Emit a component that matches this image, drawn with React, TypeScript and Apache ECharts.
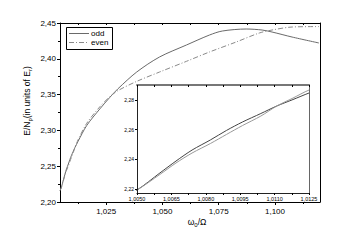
import React, { useEffect, useRef } from "react";
import * as echarts from "echarts";

const xOdd = [1.0045, 1.005, 1.006, 1.0067, 1.0074, 1.0082, 1.0089, 1.0096, 1.0104, 1.0111, 1.0118, 1.0125, 1.0164, 1.0222, 1.0266, 1.0302, 1.0386, 1.0487, 1.0607, 1.0709, 1.0766, 1.0872, 1.0943, 1.0987, 1.1076, 1.1195];
const yOdd = [2.216, 2.2193, 2.2308, 2.2388, 2.2462, 2.253, 2.2594, 2.2651, 2.2708, 2.2759, 2.2802, 2.2846, 2.307, 2.33, 2.346, 2.358, 2.3816, 2.4025, 2.4193, 2.4332, 2.4388, 2.4416, 2.4402, 2.4374, 2.4304, 2.4221];
const xEven = [1.0045, 1.005, 1.006, 1.0067, 1.0074, 1.0082, 1.0089, 1.0096, 1.0104, 1.0111, 1.0118, 1.0125, 1.0164, 1.0222, 1.0266, 1.0302, 1.0386, 1.0487, 1.0607, 1.0709, 1.0828, 1.093, 1.0987, 1.1076, 1.1195];
const yEven = [2.216, 2.2193, 2.2298, 2.2375, 2.2442, 2.2506, 2.2567, 2.2627, 2.2691, 2.2759, 2.2812, 2.2866, 2.31, 2.333, 2.347, 2.3555, 2.3685, 2.3815, 2.3965, 2.4095, 2.4235, 2.436, 2.4402, 2.4444, 2.445];

const mainXLabels = [1.025, 1.05, 1.075, 1.1];
const mainXMinor = [1.0125, 1.0375, 1.0625, 1.0875, 1.1125];
const mainXTop = [1.0125, 1.025, 1.0375, 1.05, 1.0625, 1.075, 1.0875, 1.1, 1.1125];
const insetXLabels = [1.005, 1.0065, 1.008, 1.0095, 1.011, 1.0125];
const insetXTicks = [1.005, 1.00575, 1.0065, 1.00725, 1.008, 1.00875, 1.0095, 1.01025, 1.011, 1.01175, 1.0125];
const insetYLabels = [2.22, 2.24, 2.26, 2.28];
const legendNames = ["odd", "even"];

const FONT = "Liberation Sans, Arial, sans-serif";
const MAIN_X = [1.0045, 1.12];
const MAIN_Y = [2.2, 2.45];
const INSET_X = [1.005, 1.0125];
const INSET_Y = [2.2173, 2.29];
const ODD_COLOR = "#6a6a6a";
const EVEN_COLOR = "#8a8a8a";
const EVEN_DASH = [5, 2, 1, 2];

const comma = (v: number, d: number) => v.toFixed(d).replace(".", ",");

export default function App() {
  const ref = useRef<HTMLDivElement>(null);
  useEffect(() => {
    document.body.style.margin = "0";
    const chart = echarts.init(ref.current!, null, { renderer: "svg" });
    const odd = xOdd.map((x, i) => [x, yOdd[i]]);
    const even = xEven.map((x, i) => [x, yEven[i]]);
    const line = { lineStyle: { color: "#000", width: 1 } };
    const sub = {
      a: { fontSize: 8.5, fontFamily: FONT, fill: "#000" },
      s: { fontSize: 6, fontFamily: FONT, fill: "#000", padding: [5, 0, 0, 0] },
    };
    chart.setOption({
      animation: false,
      backgroundColor: "#fff",
      textStyle: { fontFamily: FONT },
      grid: [
        { left: 60, top: 23, right: 25, bottom: 49 },
        { left: 137, top: 85, right: 36, bottom: 58, show: true, backgroundColor: "#fff", borderWidth: 0, z: 3 },
      ],
      xAxis: [
        {
          type: "value", gridIndex: 0, position: "bottom", min: MAIN_X[0], max: MAIN_X[1],
          axisLine: line, splitLine: { show: false },
          axisTick: { customValues: mainXLabels, length: 3, inside: false, lineStyle: { color: "#000" } },
          axisLabel: { customValues: mainXLabels, formatter: (v: number) => comma(v, 3), fontSize: 8, color: "#000", margin: 5 },
        },
        {
          type: "value", gridIndex: 0, position: "bottom", min: MAIN_X[0], max: MAIN_X[1],
          axisLine: { show: false }, splitLine: { show: false }, axisLabel: { show: false },
          axisTick: { customValues: mainXMinor, length: 2, lineStyle: { color: "#000" } },
        },
        {
          type: "value", gridIndex: 0, position: "top", min: MAIN_X[0], max: MAIN_X[1],
          axisLine: line, splitLine: { show: false }, axisLabel: { show: false },
          axisTick: { customValues: mainXTop, length: 2, inside: true, lineStyle: { color: "#000" } },
        },
        {
          type: "value", gridIndex: 1, position: "bottom", min: INSET_X[0], max: INSET_X[1], z: 5,
          axisLine: { lineStyle: { color: "#222", width: 1 } }, splitLine: { show: false },
          axisTick: { customValues: insetXTicks, length: 2, lineStyle: { color: "#000" } },
          axisLabel: { customValues: insetXLabels, formatter: (v: number) => comma(v, 4), fontSize: 5.5, color: "#000", margin: 3 },
        },
        {
          type: "value", gridIndex: 1, position: "top", min: INSET_X[0], max: INSET_X[1], z: 5,
          axisLine: { lineStyle: { color: "#777", width: 2 } }, splitLine: { show: false }, axisLabel: { show: false },
          axisTick: { customValues: insetXTicks, length: 2, inside: true, lineStyle: { color: "#000" } },
        },
      ],
      yAxis: [
        {
          type: "value", gridIndex: 0, position: "left", min: MAIN_Y[0], max: MAIN_Y[1], interval: 0.05,
          axisLine: line, splitLine: { show: false },
          axisTick: { length: 3, lineStyle: { color: "#000" } },
          minorTick: { show: true, splitNumber: 2, length: 2, lineStyle: { color: "#000" } },
          axisLabel: { formatter: (v: number) => comma(v, 2), fontSize: 8, color: "#000", margin: 4 },
        },
        {
          type: "value", gridIndex: 0, position: "right", min: MAIN_Y[0], max: MAIN_Y[1],
          axisLine: line, splitLine: { show: false }, axisLabel: { show: false }, axisTick: { show: false },
        },
        {
          type: "value", gridIndex: 1, position: "left", min: INSET_Y[0], max: INSET_Y[1], z: 5,
          axisLine: { lineStyle: { color: "#222", width: 1 } }, splitLine: { show: false },
          axisTick: { customValues: insetYLabels, length: 2, lineStyle: { color: "#000" } },
          axisLabel: { customValues: insetYLabels, formatter: (v: number) => comma(v, 2), fontSize: 5, color: "#000", margin: 3 },
        },
        {
          type: "value", gridIndex: 1, position: "right", min: INSET_Y[0], max: INSET_Y[1], z: 5,
          axisLine: { lineStyle: { color: "#666", width: 1 } }, splitLine: { show: false }, axisLabel: { show: false }, axisTick: { show: false },
        },
      ],
      series: [
        { name: legendNames[0], type: "line", xAxisIndex: 0, yAxisIndex: 0, data: odd, smooth: 0.3, symbol: "none", lineStyle: { color: ODD_COLOR, width: 1 }, z: 2 },
        { name: legendNames[1], type: "line", xAxisIndex: 0, yAxisIndex: 0, data: even, smooth: 0.3, symbol: "none", lineStyle: { color: EVEN_COLOR, width: 1, type: EVEN_DASH }, z: 2 },
        { name: legendNames[0], type: "line", xAxisIndex: 3, yAxisIndex: 2, data: odd, smooth: 0.3, symbol: "none", lineStyle: { color: "#444", width: 1 }, z: 4 },
        { name: legendNames[1], type: "line", xAxisIndex: 3, yAxisIndex: 2, data: even, smooth: 0.3, symbol: "none", lineStyle: { color: "#999", width: 1 }, z: 4 },
      ],
      graphic: [
        {
          type: "group", z: 10,
          children: [
            { type: "rect", shape: { x: 66.5, y: 27.5, width: 46, height: 22 }, style: { fill: "#fff", stroke: "#000", lineWidth: 1 } },
            { type: "line", shape: { x1: 69, y1: 33.5, x2: 89, y2: 33.5 }, style: { stroke: ODD_COLOR, lineWidth: 1 } },
            { type: "line", shape: { x1: 69, y1: 42.5, x2: 89, y2: 42.5 }, style: { stroke: EVEN_COLOR, lineWidth: 1, lineDash: EVEN_DASH } },
            { type: "text", x: 91, y: 33.5, style: { text: legendNames[0], fontSize: 8, fontFamily: FONT, fill: "#000", verticalAlign: "middle" } },
            { type: "text", x: 91, y: 42.5, style: { text: legendNames[1], fontSize: 8, fontFamily: FONT, fill: "#000", verticalAlign: "middle" } },
          ],
        },
        {
          type: "text", x: 27, y: 101, rotation: Math.PI / 2,
          style: { text: "{a|E/N}{s|p}{a|(in units of E}{s|r}{a|)}", align: "center", verticalAlign: "middle", rich: sub },
        },
        {
          type: "text", x: 197, y: 222,
          style: { text: "{a|ω}{s|0}{a|/Ω}", align: "center", verticalAlign: "middle", rich: sub },
        },
      ],
    });
    return () => chart.dispose();
  }, []);
  return <div ref={ref} style={{ width: 345, height: 251 }} />;
}
